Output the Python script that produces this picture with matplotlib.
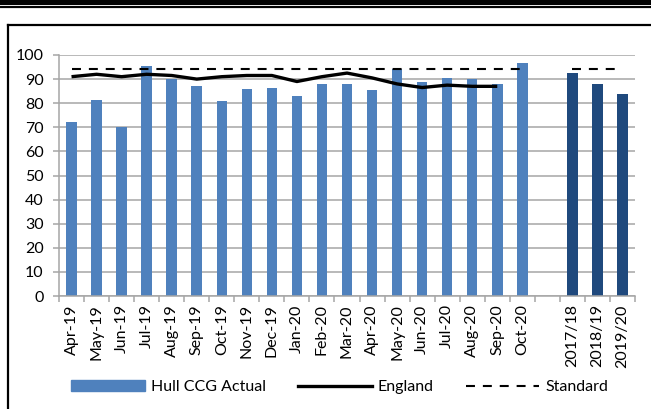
import matplotlib.pyplot as plt
from matplotlib.lines import Line2D
from matplotlib.patches import Rectangle
import numpy as np

plt.rcParams['font.family'] = ['Lato', 'DejaVu Sans']

# categories ('' is the empty gap slot between months and years)
categories = ['Apr-19', 'May-19', 'Jun-19', 'Jul-19', 'Aug-19', 'Sep-19', 'Oct-19',
              'Nov-19', 'Dec-19', 'Jan-20', 'Feb-20', 'Mar-20', 'Apr-20', 'May-20',
              'Jun-20', 'Jul-20', 'Aug-20', 'Sep-20', 'Oct-20', '',
              '2017/18', '2018/19', '2019/20']

hull_monthly = [72, 81.5, 70, 95.5, 90, 87, 81, 86, 86.5, 83, 88, 88, 85.5, 94,
                89, 90.5, 90, 88, 96.5]
hull_yearly = [92.5, 88, 84]
england = [91, 92, 91, 92, 91.5, 90, 91, 91.5, 91.5, 89, 91, 92.5, 90.5, 88,
           86.5, 87.5, 87, 87]
standard = 94

light_blue = '#4F81BD'
dark_blue = '#1F497D'
grid_col = '#A6A6A6'

n = len(categories)
x = np.arange(n)
x_months = x[:len(hull_monthly)]
x_years = x[-len(hull_yearly):]

fig = plt.figure(figsize=(6.51, 4.09), dpi=100)
ax = fig.add_axes([59/651, 1 - 296/409, (635 - 59)/651, (296 - 55)/409])

ax.bar(x_months, hull_monthly, width=0.42, color=light_blue, zorder=2)
ax.bar(x_years, hull_yearly, width=0.42, color=dark_blue, zorder=2)
ax.plot(x[:len(england)], england, color='black', lw=2.4, zorder=3,
        solid_joinstyle='round', solid_capstyle='butt')
std_line = [standard if c else np.nan for c in categories]
ax.plot(x, std_line, color='black', lw=1.5, ls=(0, (4.3, 3.8)), zorder=3)

ax.set_xlim(-0.5, n - 0.5)
ax.set_ylim(0, 100)
ax.set_yticks(range(0, 101, 10))
ax.grid(axis='y', color=grid_col, lw=1.1, zorder=0)
ax.set_axisbelow(True)

# category ticks sit between slots, labels at centre
ax.set_xticks(np.arange(-0.5, n, 1))
ax.set_xticklabels([])
ax.set_xticks(x, minor=True)
ax.set_xticklabels(categories, minor=True, rotation=90)
ax.tick_params(axis='x', which='major', length=4, color=grid_col, width=1.1)
ax.tick_params(axis='x', which='minor', length=0, pad=6, labelsize=11.5)
ax.tick_params(axis='y', length=4, color=grid_col, width=1.1, pad=7, labelsize=11.5)

for s in ['top', 'right']:
    ax.spines[s].set_visible(False)
for s in ['left', 'bottom']:
    ax.spines[s].set_color(grid_col)
    ax.spines[s].set_linewidth(1.1)

handles = [Rectangle((0, 0), 1, 1, color=light_blue),
           Line2D([], [], color='black', lw=2.4),
           Line2D([], [], color='black', lw=1.5, ls=(0, (4.3, 3.8)))]
fig.legend(handles, ['Hull CCG Actual', 'England', 'Standard'], loc='center',
           bbox_to_anchor=(340/651, 1 - 387/409), ncol=3, frameon=False,
           fontsize=11.5, handlelength=4.6, handleheight=0.75, handletextpad=0.4,
           columnspacing=2.0)

# frame and header band
fig.add_artist(Rectangle((0, 1 - 4.5/409), 1, 4.5/409, transform=fig.transFigure,
                         color='black', lw=0))
fig.add_artist(Line2D([0, 1], [1 - 7/409, 1 - 7/409], transform=fig.transFigure,
                      color='black', lw=1.6))
fig.add_artist(Line2D([8/651, 1], [1 - 25/409, 1 - 25/409], transform=fig.transFigure,
                      color='black', lw=1.6))
fig.add_artist(Line2D([8/651, 8/651], [0, 1 - 25/409], transform=fig.transFigure,
                      color='black', lw=1.6))

fig.savefig('out.png', dpi=100)
